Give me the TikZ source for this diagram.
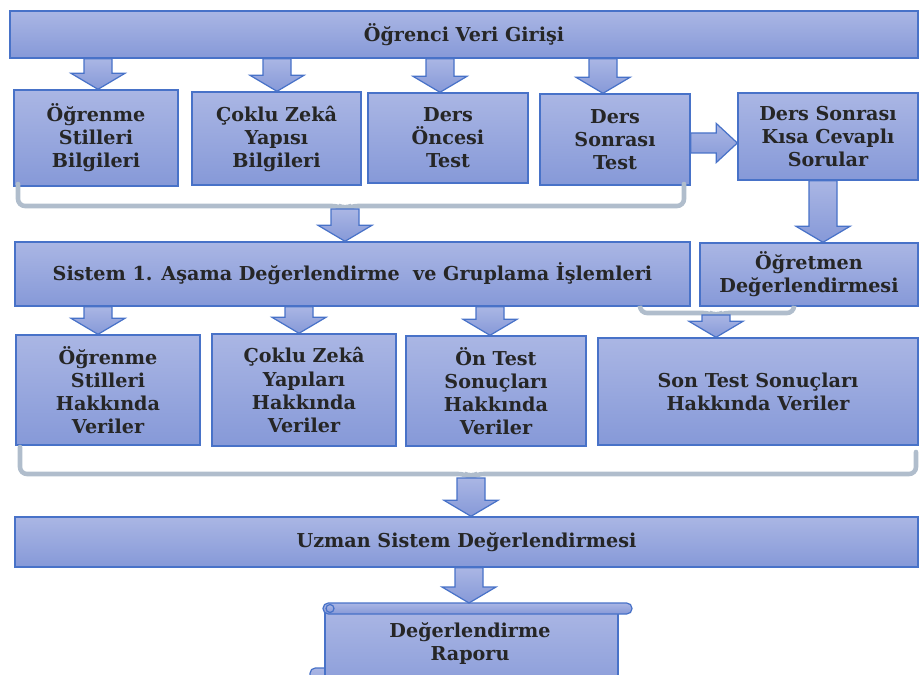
\documentclass[tikz,border=0pt]{standalone}
\usepackage{fontspec}
\setmainfont{DejaVu Serif}
\usetikzlibrary{calc}
\definecolor{boxtop}{RGB}{170,182,228}
\definecolor{boxbot}{RGB}{134,153,216}
\definecolor{boxline}{RGB}{72,114,200}
\definecolor{braceg}{RGB}{176,189,204}
\tikzset{
	box/.style={draw=boxline, line width=0.8pt, top color=boxtop, bottom color=boxbot,
		align=center, font=\bfseries\fontsize{10.9}{13.1}\selectfont, text=black!85, inner sep=2pt},
	arr/.style={draw=boxline, line width=0.7pt, top color=boxtop, bottom color=boxbot},
	brace/.style={draw=braceg, line width=2.6pt, line cap=round, rounded corners=4pt},
}
% block arrows: #1 tail, #2 tip
\newcommand{\blockdown}[2]{%
	\draw[arr] ($#1+(-14,0)$) -- ($#2+(-14,-16)$) -- ($#2+(-27,-16)$) -- #2
	-- ($#2+(27,-16)$) -- ($#2+(14,-16)$) -- ($#1+(14,0)$) -- cycle;}
\newcommand{\blockright}[2]{%
	\draw[arr] ($#1+(0,-10)$) -- ($#2+(-21,-10)$) -- ($#2+(-21,-19.5)$) -- #2
	-- ($#2+(-21,19.5)$) -- ($#2+(-21,10)$) -- ($#1+(0,10)$) -- cycle;}

\begin{document}
\begin{tikzpicture}[x=0.02cm, y=-0.02cm]
	\useasboundingbox (0,0) rectangle (920,675);
	
	%input
	\node[box, minimum width=18.16cm, minimum height=0.94cm] (top) at (464,34.5) {Öğrenci Veri Girişi};
	
	%first row
	\node[box, minimum width=3.28cm, minimum height=1.92cm] (b1) at (96,138) {Öğrenme\\Stilleri\\Bilgileri};
	\node[box, minimum width=3.38cm, minimum height=1.86cm] (b2) at (276.5,138.5) {Çoklu Zekâ\\Yapısı\\Bilgileri};
	\node[box, minimum width=3.2cm, minimum height=1.8cm] (b3) at (448,138) {Ders\\Öncesi\\Test};
	\node[box, minimum width=3.0cm, minimum height=1.82cm] (b4) at (615,139.5) {Ders\\Sonrası\\Test};
	\node[box, minimum width=3.6cm, minimum height=1.74cm] (b5) at (828,136.5) {Ders Sonrası\\Kısa Cevaplı\\Sorular};
	
	\blockdown{(98,0 |- top.south)}{(98,0 |- b1.north)}
	\blockdown{(277,0 |- top.south)}{(277,0 |- b2.north)}
	\blockdown{(440,0 |- top.south)}{(440,0 |- b3.north)}
	\blockdown{(603,0 |- top.south)}{(603,0 |- b4.north)}
	\blockright{(b4.east |- 0,143)}{(b5.west |- 0,143)}
	
	%second row
	\node[box, minimum width=13.5cm, minimum height=1.28cm] (s1) at (352.5,274) {Sistem 1. Aşama Değerlendirme\ \ ve Gruplama İşlemleri};
	\node[box, minimum width=4.36cm, minimum height=1.26cm] (ogr) at (809,274.5) {Öğretmen\\Değerlendirmesi};
	
	\draw[brace] (18,184) -- (18,206) -- (339,206) -- (345,209) -- (351,206) -- (684,206) -- (684,184);
	\coordinate (br1) at (345,209);
	\blockdown{(br1)}{(br1 |- s1.north)}
	\blockdown{(823,0 |- b5.south)}{(823,0 |- ogr.north)}
	
	%third row
	\node[box, minimum width=3.68cm, minimum height=2.2cm] (c1) at (108,390) {Öğrenme\\Stilleri\\Hakkında\\Veriler};
	\node[box, minimum width=3.68cm, minimum height=2.24cm] (c2) at (304,390) {Çoklu Zekâ\\Yapıları\\Hakkında\\Veriler};
	\node[box, minimum width=3.6cm, minimum height=2.2cm] (c3) at (496,391) {Ön Test\\Sonuçları\\Hakkında\\Veriler};
	\node[box, minimum width=6.4cm, minimum height=2.14cm] (c4) at (758,391.5) {Son Test Sonuçları\\Hakkında Veriler};
	
	\blockdown{(98,0 |- s1.south)}{(98,0 |- c1.north)}
	\blockdown{(299,0 |- s1.south)}{(299,0 |- c2.north)}
	\blockdown{(490,0 |- s1.south)}{(490,0 |- c3.north)}
	\draw[brace] (640,307) -- (640,313) -- (710,313) -- (716,316) -- (722,313) -- (794,313) -- (794,307);
	\coordinate (br2) at (716,315);
	\blockdown{(br2)}{(br2 |- c4.north)}
	
	%expert system
	\node[box, minimum width=18.06cm, minimum height=1.0cm] (uz) at (466.5,542) {Uzman Sistem Değerlendirmesi};
	\draw[brace] (20,447) -- (20,474) -- (465,474) -- (471,477) -- (477,474) -- (916,474) -- (916,452);
	\coordinate (br3) at (471,478);
	\blockdown{(br3)}{(br3 |- uz.north)}
	
	%report scroll
	\draw[arr, rounded corners=3pt] (310,668) rectangle (360,700);
	\draw[arr] (325,610) rectangle (618,700);
	\draw[arr, rounded corners=3pt] (323,603) rectangle (632,614);
	\draw[arr] (330,608.5) circle (4);
	\node[font=\bfseries\fontsize{10.9}{13.1}\selectfont, text=black!85, align=center] (rap) at (470,644) {Değerlendirme\\Raporu};
	\coordinate (scrolltop) at (469,603);
	\blockdown{(469,0 |- uz.south)}{(scrolltop)}
\end{tikzpicture}
\end{document}
